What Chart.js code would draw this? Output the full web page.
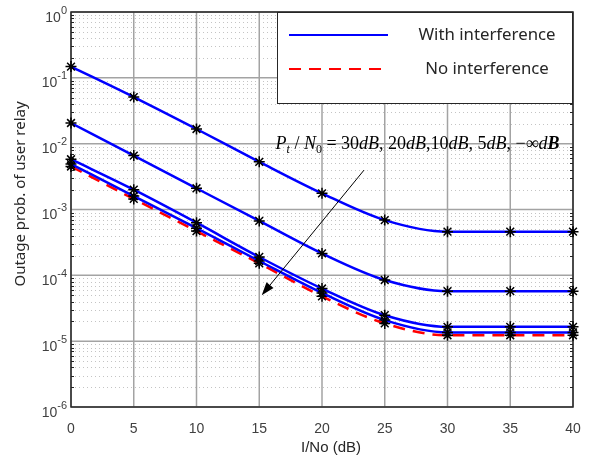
<!DOCTYPE html>
<html>
<head>
<meta charset="utf-8">
<script src="https://cdn.jsdelivr.net/npm/chart.js@4.4.0/dist/chart.umd.min.js"></script>
<style>
  html, body { margin: 0; padding: 0; background: #fff; }
</style>
</head>
<body>
<canvas id="myChart" width="590" height="459"></canvas>
<script>
// I/No (dB) on the x axis
const snr = [0, 5, 10, 15, 20, 25, 30, 35, 40];

// outage probability, one array per Pt/N0 value
const with30dB = [0.148, 0.051, 0.0167, 0.0053, 0.00176, 0.00069, 0.00046, 0.00046, 0.00046];
const with20dB = [0.0206, 0.0066, 0.0021, 0.00067, 0.000215, 0.000085, 0.0000575, 0.0000575, 0.0000575];
const with10dB = [0.0058, 0.0020, 0.00063, 0.00019, 0.000063, 0.0000248, 0.0000165, 0.0000165, 0.0000165];
const with5dB = [0.0049, 0.0016, 0.00052, 0.000165, 0.000054, 0.0000209, 0.0000136, 0.0000136, 0.0000136];
const noInterf = [0.0045, 0.00145, 0.00047, 0.000152, 0.000048, 0.0000186, 0.0000123, 0.0000123, 0.0000123];

const yTicks = [1, 1e-1, 1e-2, 1e-3, 1e-4, 1e-5, 1e-6];
const yExp = ['0', '-1', '-2', '-3', '-4', '-5', '-6'];

const legendLabels = ['With interference', 'No interference'];
const yTitle = 'Outage prob. of user relay';
const xTitle = 'I/No (dB)';

// annotation anchor (data units): text start, arrow tail, arrow head
const noteAt = { x: 16.3, y: 0.0102 };
const arrowFrom = { x: 23.35, y: 0.00397 };
const arrowTo = { x: 15.2, y: 0.00005 };

const toPoints = (arr) => snr.map((x, i) => ({ x, y: arr[i] }));

const lineSet = (data, color, dash) => ({
  data: toPoints(data),
  borderColor: color,
  borderWidth: 2.5,
  borderDash: dash || [],
  cubicInterpolationMode: 'monotone',
  fill: false,
  pointStyle: 'star',
  pointRadius: 5.5,
  pointHoverRadius: 5.5,
  pointBorderColor: '#000',
  pointBackgroundColor: '#000',
  pointBorderWidth: 1.5,
  clip: false,
});

const gridPlugin = {
  id: 'matlabGrid',
  beforeDatasetsDraw(chart) {
    const { ctx, chartArea: a, scales } = chart;
    const xs = scales.x, ys = scales.y;
    ctx.save();
    // minor dotted horizontal lines
    ctx.strokeStyle = '#c4c4c4';
    ctx.lineWidth = 1;
    ctx.setLineDash([1, 3]);
    for (let d = -6; d < 0; d++) {
      for (let m = 2; m <= 9; m++) {
        const y = Math.round(ys.getPixelForValue(m * Math.pow(10, d))) + 0.5;
        ctx.beginPath();
        ctx.moveTo(a.left, y);
        ctx.lineTo(a.right, y);
        ctx.stroke();
      }
    }
    ctx.setLineDash([]);
    // major lines
    ctx.strokeStyle = '#a3a3a3';
    ctx.lineWidth = 1.5;
    yTicks.forEach((v) => {
      const y = ys.getPixelForValue(v);
      ctx.beginPath();
      ctx.moveTo(a.left, y);
      ctx.lineTo(a.right, y);
      ctx.stroke();
    });
    snr.forEach((v) => {
      const x = xs.getPixelForValue(v);
      ctx.beginPath();
      ctx.moveTo(x, a.top);
      ctx.lineTo(x, a.bottom);
      ctx.stroke();
    });
    // minor ticks on left and right edge
    ctx.strokeStyle = '#262626';
    ctx.lineWidth = 1;
    for (let d = -6; d < 0; d++) {
      for (let m = 2; m <= 9; m++) {
        const y = Math.round(ys.getPixelForValue(m * Math.pow(10, d))) + 0.5;
        ctx.beginPath();
        ctx.moveTo(a.left, y);
        ctx.lineTo(a.left + 3, y);
        ctx.moveTo(a.right, y);
        ctx.lineTo(a.right - 3, y);
        ctx.stroke();
      }
    }
    // box
    ctx.strokeStyle = '#262626';
    ctx.lineWidth = 1.5;
    ctx.strokeRect(a.left, a.top, a.right - a.left, a.bottom - a.top);
    ctx.restore();
  },
  afterDatasetsDraw(chart) {
    const { ctx, chartArea: a, scales } = chart;
    const xs = scales.x, ys = scales.y;
    ctx.save();

    // y tick labels with superscript exponents
    ctx.fillStyle = '#404040';
    ctx.textBaseline = 'alphabetic';
    yTicks.forEach((v, i) => {
      const y = ys.getPixelForValue(v);
      ctx.font = '11px "Liberation Sans", Arial, sans-serif';
      const ew = ctx.measureText(yExp[i]).width;
      ctx.textAlign = 'right';
      ctx.fillText(yExp[i], 67, y + 1.5);
      ctx.font = '14px "Liberation Sans", Arial, sans-serif';
      ctx.fillText('10', 67 - ew, y + 9.5);
    });

    // axis titles
    ctx.fillStyle = '#262626';
    ctx.textAlign = 'center';
    ctx.textBaseline = 'middle';
    ctx.font = '15px "Liberation Sans", Arial, sans-serif';
    ctx.fillText(xTitle, 331, 448);
    ctx.save();
    ctx.translate(21, 194);
    ctx.rotate(-Math.PI / 2);
    ctx.font = '15px "Noto Sans", sans-serif';
    ctx.fillText(yTitle, 0, 0);
    ctx.restore();

    // legend box
    const lx = 277, ly = a.top, lw = 295, lh = 91;
    ctx.fillStyle = '#fff';
    ctx.fillRect(lx, ly, lw, lh);
    ctx.strokeStyle = '#262626';
    ctx.lineWidth = 1;
    ctx.strokeRect(lx + 0.5, ly + 0.5, lw, lh);
    const sets = chart.data.datasets;
    [sets[0], sets[4]].forEach((ds, i) => {
      const y = ly + 23 + i * 34;
      ctx.strokeStyle = ds.borderColor;
      ctx.lineWidth = 2;
      ctx.setLineDash(ds.borderDash);
      ctx.beginPath();
      ctx.moveTo(289, y);
      ctx.lineTo(388, y);
      ctx.stroke();
      ctx.setLineDash([]);
      ctx.fillStyle = '#262626';
      ctx.font = '16.8px "Noto Sans", sans-serif';
      ctx.textAlign = 'center';
      ctx.fillText(legendLabels[i], 487, y);
    });

    // annotation text
    const serif = '"Liberation Serif", "Times New Roman", serif';
    const parts = [
      ['P', 'italic 18px', 0], ['t', 'italic 12px', 4], [' / ', '18px', 0],
      ['N', 'italic 18px', 0], ['0', '12px', 4], [' = 30', '18px', 0],
      ['dB', 'italic 18px', 0], [', 20', '18px', 0], ['dB', 'italic 18px', 0],
      [',10', '18px', 0], ['dB', 'italic 18px', 0], [', 5', '18px', 0],
      ['dB', 'italic 18px', 0], [', \u2212\u221E', '18px', 0], ['d', 'italic 18px', 0],
      ['B', 'italic bold 18px', 0],
    ];
    let tx = xs.getPixelForValue(noteAt.x);
    const ty = ys.getPixelForValue(noteAt.y) + 6;
    ctx.fillStyle = '#000';
    ctx.textAlign = 'left';
    ctx.textBaseline = 'alphabetic';
    parts.forEach(([t, f, dy]) => {
      ctx.font = f + ' ' + serif;
      ctx.fillText(t, tx, ty + dy);
      tx += ctx.measureText(t).width;
    });

    // arrow
    const x1 = xs.getPixelForValue(arrowFrom.x), y1 = ys.getPixelForValue(arrowFrom.y);
    const x2 = xs.getPixelForValue(arrowTo.x), y2 = ys.getPixelForValue(arrowTo.y);
    const ang = Math.atan2(y2 - y1, x2 - x1);
    ctx.strokeStyle = '#000';
    ctx.lineWidth = 1;
    ctx.beginPath();
    ctx.moveTo(x1, y1);
    ctx.lineTo(x2 - 10 * Math.cos(ang), y2 - 10 * Math.sin(ang));
    ctx.stroke();
    ctx.beginPath();
    ctx.moveTo(x2, y2);
    ctx.lineTo(x2 - 13 * Math.cos(ang) + 4.5 * Math.sin(ang), y2 - 13 * Math.sin(ang) - 4.5 * Math.cos(ang));
    ctx.lineTo(x2 - 13 * Math.cos(ang) - 4.5 * Math.sin(ang), y2 - 13 * Math.sin(ang) + 4.5 * Math.cos(ang));
    ctx.closePath();
    ctx.fillStyle = '#000';
    ctx.fill();

    ctx.restore();
  },
};

const ctx = document.getElementById('myChart');

new Chart(ctx, {
  type: 'line',
  data: {
    datasets: [
      lineSet(with30dB, '#0000ff'),
      lineSet(with20dB, '#0000ff'),
      lineSet(with10dB, '#0000ff'),
      lineSet(with5dB, '#0000ff'),
      lineSet(noInterf, '#ff0000', [12, 8]),
    ],
  },
  options: {
    responsive: false,
    animation: false,
    layout: { padding: { top: 12, right: 17, left: 0, bottom: 0 } },
    plugins: { legend: { display: false }, tooltip: { enabled: false } },
    scales: {
      x: {
        type: 'linear',
        min: 0,
        max: 40,
        grid: { display: false },
        border: { display: false },
        ticks: {
          stepSize: 5,
          maxRotation: 0,
          autoSkip: false,
          padding: 6,
          color: '#404040',
          font: { family: '"Liberation Sans", Arial, sans-serif', size: 14 },
        },
        afterFit: (scale) => { scale.height = 52; },
      },
      y: {
        type: 'logarithmic',
        min: 1e-6,
        max: 1,
        grid: { display: false },
        border: { display: false },
        ticks: { display: false },
        afterFit: (scale) => { scale.width = 71; },
      },
    },
  },
  plugins: [gridPlugin],
});
</script>
</body>
</html>
